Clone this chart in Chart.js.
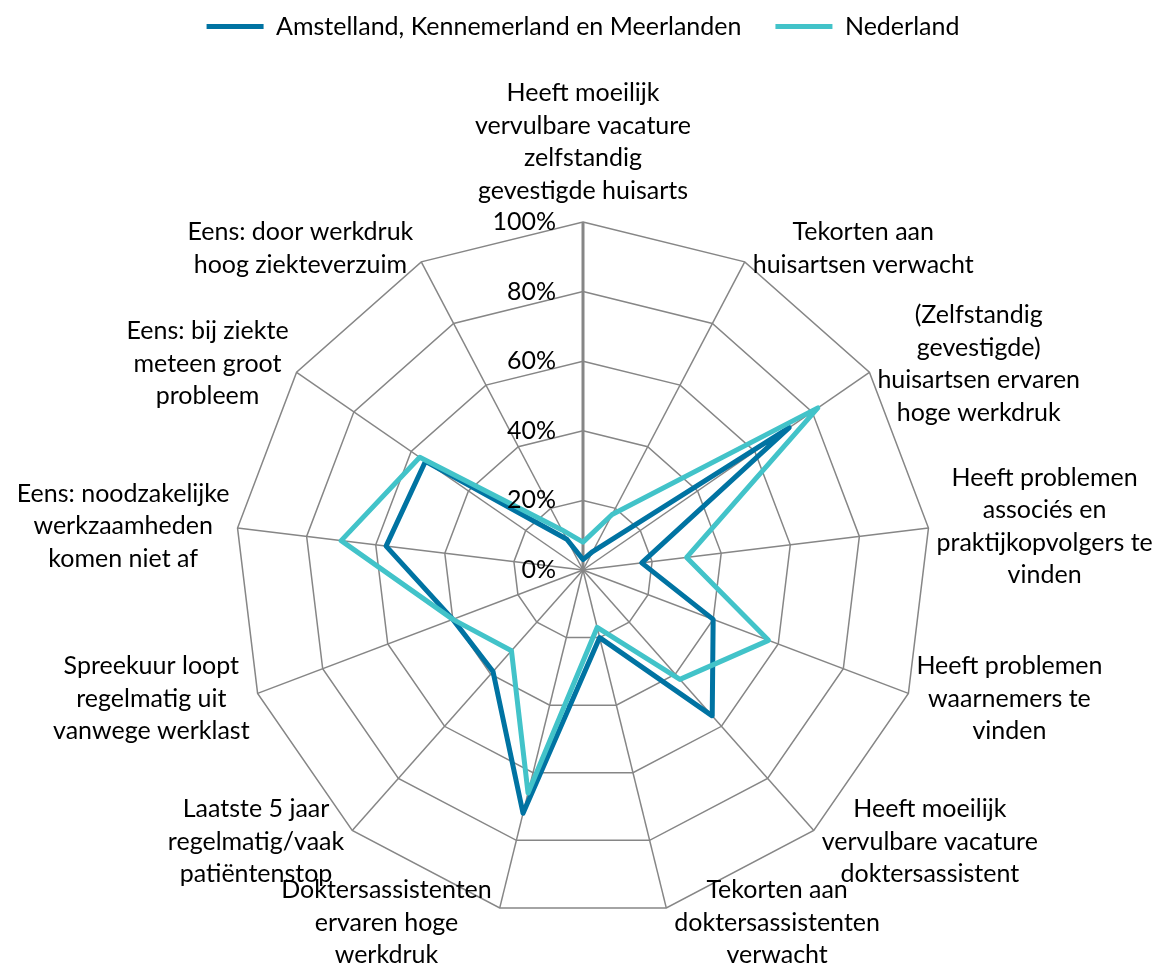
<!DOCTYPE html>
<html>
<head>
<meta charset="utf-8">
<script src="https://cdn.jsdelivr.net/npm/chart.js@4.4.0/dist/chart.umd.min.js"></script>
<style>
    html, body { margin: 0; padding: 0; background: #fff; }
</style>
</head>
<body>
<canvas id="radar-chart" width="1164" height="966"></canvas>
<script>
// category labels, split in lines as in the original
var categories = [
    ['Heeft moeilijk', 'vervulbare vacature', 'zelfstandig', 'gevestigde huisarts'],
    ['Tekorten aan', 'huisartsen verwacht'],
    ['(Zelfstandig', 'gevestigde)', 'huisartsen ervaren', 'hoge werkdruk'],
    ['Heeft problemen', 'associés en', 'praktijkopvolgers te', 'vinden'],
    ['Heeft problemen', 'waarnemers te', 'vinden'],
    ['Heeft moeilijk', 'vervulbare vacature', 'doktersassistent'],
    ['Tekorten aan', 'doktersassistenten', 'verwacht'],
    ['Doktersassistenten', 'ervaren hoge', 'werkdruk'],
    ['Laatste 5 jaar', 'regelmatig/vaak', 'patiëntenstop'],
    ['Spreekuur loopt', 'regelmatig uit', 'vanwege werklast'],
    ['Eens: noodzakelijke', 'werkzaamheden', 'komen niet af'],
    ['Eens: bij ziekte', 'meteen groot', 'probleem'],
    ['Eens: door werkdruk', 'hoog ziekteverzuim']
];
// series values (percentages)
var amstelland = [3, 6, 72, 17, 40, 56, 20, 72, 39, 40, 57, 55, 10];
var nederland = [8, 18, 82, 30, 57, 42, 17, 66, 31, 40, 70, 57, 13];
// tick labels of the value axis
var tick_values = [0, 20, 40, 60, 80, 100];

var font_family = 'Lato, "Open Sans", sans-serif';
var font_size = 25;

// give the legend the room above the web
var legendSpace = {
    id: 'legendSpace',
    beforeInit: function(chart) {
        var fit = chart.legend.fit;
        chart.legend.fit = function() {
            fit.bind(chart.legend)();
            this.height = 242;
        };
    }
};

// draws tick labels left of the axis and the category labels like excel does
var excelLabels = {
    id: 'excelLabels',
    afterDraw: function(chart) {
        var scale = chart.scales.r;
        var ctx = chart.ctx;
        ctx.save();
        ctx.font = font_size + 'px ' + font_family;
        ctx.fillStyle = '#000';
        // tick labels
        ctx.textAlign = 'right';
        ctx.textBaseline = 'middle';
        tick_values.forEach(function(value) {
            var pos = scale.getPointPositionForValue(0, value);
            ctx.fillText(value + '%', pos.x - 27, pos.y);
        });
        // category labels
        ctx.textAlign = 'center';
        var line_height = 32.5;
        categories.forEach(function(lines, i) {
            var pos = scale.getPointPosition(i, scale.drawingArea);
            var angle = i * 2 * Math.PI / categories.length;
            var width = Math.max.apply(null, lines.map(function(l) { return ctx.measureText(l).width; }));
            var height = lines.length * line_height;
            var cx, cy;
            if (i === 0) {
                cx = pos.x;
                cy = pos.y - 15 - height / 2;
            } else {
                var side = Math.sin(angle) > 0 ? 1 : -1;
                cx = pos.x + side * (8 + width / 2);
                cy = pos.y - 15 * Math.cos(angle);
            }
            lines.forEach(function(line, k) {
                ctx.fillText(line, cx, cy - height / 2 + line_height * (k + 0.5));
            });
        });
        ctx.restore();
    }
};

var ctx = document.getElementById('radar-chart').getContext('2d');
var radarChart = new Chart(ctx, {
    type: 'radar',
    data: {
        labels: categories,
        datasets: [{
            label: 'Amstelland, Kennemerland en Meerlanden',
            data: amstelland,
            borderColor: '#0073A2',
            backgroundColor: 'transparent',
            borderWidth: 5,
            borderCapStyle: 'round',
            borderJoinStyle: 'round',
            pointRadius: 0,
            fill: false,
            order: 1
        }, {
            label: 'Nederland',
            data: nederland,
            borderColor: '#42C3C9',
            backgroundColor: 'transparent',
            borderWidth: 5,
            borderCapStyle: 'round',
            borderJoinStyle: 'round',
            pointRadius: 0,
            fill: false,
            order: 0
        }]
    },
    options: {
        responsive: false,
        animation: false,
        devicePixelRatio: 1,
        layout: {
            padding: { top: -20, bottom: 48, left: 2, right: 0 }
        },
        plugins: {
            legend: {
                position: 'top',
                labels: {
                    usePointStyle: true,
                    pointStyle: 'line',
                    pointStyleWidth: 57,
                    color: '#000',
                    padding: 34,
                    font: { family: font_family, size: font_size },
                    sort: function(a, b) { return a.datasetIndex - b.datasetIndex; }
                }
            },
            tooltip: { enabled: false }
        },
        scales: {
            r: {
                min: 0,
                max: 100,
                ticks: { stepSize: 20, display: false },
                grid: { color: '#868686', lineWidth: 1.5 },
                angleLines: {
                    color: '#868686',
                    lineWidth: function(c) { return c.index === 0 ? 3 : 1.5; }
                },
                pointLabels: { display: false }
            }
        }
    },
    plugins: [legendSpace, excelLabels]
});
</script>
</body>
</html>
